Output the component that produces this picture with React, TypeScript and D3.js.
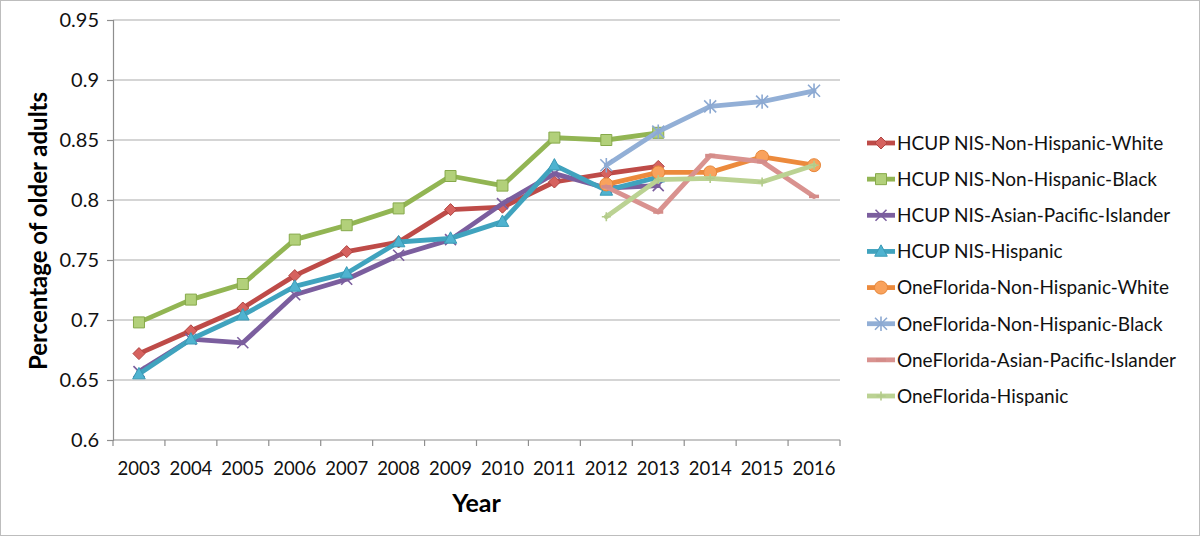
import { useEffect, useRef } from 'react';
import * as d3 from 'd3';

const years = ['2003', '2004', '2005', '2006', '2007', '2008', '2009', '2010', '2011', '2012', '2013', '2014', '2015', '2016'];
const yTicks = [0.6, 0.65, 0.7, 0.75, 0.8, 0.85, 0.9, 0.95];

// HCUP NIS covers 2003-2013, OneFlorida covers 2012-2016
const hcupNHW  = [0.672, 0.691, 0.710, 0.737, 0.757, 0.765, 0.792, 0.794, 0.815, 0.822, 0.828, null, null, null];
const hcupNHB  = [0.698, 0.717, 0.730, 0.767, 0.779, 0.793, 0.820, 0.812, 0.852, 0.850, 0.856, null, null, null];
const hcupAPI  = [0.657, 0.684, 0.681, 0.721, 0.734, 0.754, 0.767, 0.797, 0.822, 0.810, 0.812, null, null, null];
const hcupHisp = [0.655, 0.684, 0.704, 0.728, 0.739, 0.765, 0.768, 0.782, 0.829, 0.808, 0.819, null, null, null];
const ofNHW    = [null, null, null, null, null, null, null, null, null, 0.813, 0.823, 0.823, 0.836, 0.829];
const ofNHB    = [null, null, null, null, null, null, null, null, null, 0.829, 0.857, 0.878, 0.882, 0.891];
const ofAPI    = [null, null, null, null, null, null, null, null, null, 0.811, 0.790, 0.837, 0.832, 0.803];
const ofHisp   = [null, null, null, null, null, null, null, null, null, 0.786, 0.817, 0.818, 0.815, 0.829];

type Marker = 'diamond' | 'square' | 'times' | 'triangle' | 'circle' | 'star' | 'dash' | 'plus';

interface Series {
  name: string;
  values: (number | null)[];
  line: string;
  fill: string;
  stroke: string;
  marker: Marker;
}

const series: Series[] = [
  { name: 'HCUP NIS-Non-Hispanic-White',      values: hcupNHW,  line: '#BE4B48', fill: '#D6625F', stroke: '#B04441', marker: 'diamond' },
  { name: 'HCUP NIS-Non-Hispanic-Black',      values: hcupNHB,  line: '#92B553', fill: '#B2D07A', stroke: '#86A94A', marker: 'square' },
  { name: 'HCUP NIS-Asian-Pacific-Islander',  values: hcupAPI,  line: '#7B5E9E', fill: 'none',    stroke: '#7B5E9E', marker: 'times' },
  { name: 'HCUP NIS-Hispanic',                values: hcupHisp, line: '#40A3BE', fill: '#4FB3D0', stroke: '#3A9AB5', marker: 'triangle' },
  { name: 'OneFlorida-Non-Hispanic-White',    values: ofNHW,    line: '#EC8A3C', fill: '#F9A25C', stroke: '#E6873A', marker: 'circle' },
  { name: 'OneFlorida-Non-Hispanic-Black',    values: ofNHB,    line: '#92AFD6', fill: 'none',    stroke: '#8CA9D2', marker: 'star' },
  { name: 'OneFlorida-Asian-Pacific-Islander', values: ofAPI,   line: '#D9928F', fill: 'none',    stroke: '#D48C89', marker: 'dash' },
  { name: 'OneFlorida-Hispanic',              values: ofHisp,   line: '#BBD293', fill: 'none',    stroke: '#B3CB8A', marker: 'plus' },
];

function markerPath(m: Marker, s: number): string {
  const h = s / 2;
  switch (m) {
    case 'diamond':  return `M0,${-h}L${h},0L0,${h}L${-h},0Z`;
    case 'square':   return `M${-h},${-h}H${h}V${h}H${-h}Z`;
    case 'triangle': return `M0,${-h * 1.1}L${h * 1.05},${h * 0.8}L${-h * 1.05},${h * 0.8}Z`;
    case 'circle':   return d3.symbol(d3.symbolCircle, Math.PI * h * h)()!;
    case 'times':    return `M${-h},${-h}L${h},${h}M${h},${-h}L${-h},${h}`;
    case 'star':     return `M${-h},${-h}L${h},${h}M${h},${-h}L${-h},${h}M0,${-h * 1.2}V${h * 1.2}`;
    case 'dash':     return `M${-h},0H${h}`;
    case 'plus':     return `M${-h},0H${h}M0,${-h}V${h}`;
  }
}

const markerSize: Record<Marker, number> = {
  diamond: 12, square: 11, times: 11, triangle: 12, circle: 13, star: 12, dash: 10, plus: 9,
};

export default function App() {
  const svgRef = useRef<SVGSVGElement>(null);

  useEffect(() => {
    document.body.style.margin = '0';
    if (!svgRef.current) return;

    const svg = d3.select(svgRef.current);
    svg.selectAll('*').remove();

    const W = 1200, H = 536;
    const plot = { left: 113, right: 840, top: 20, bottom: 440 };
    const font = 'Lato, "Open Sans", sans-serif';

    svg.append('rect')
      .attr('x', 0.5).attr('y', 0.5).attr('width', W - 1).attr('height', H - 1)
      .attr('fill', '#fff').attr('stroke', '#bdbdbd');

    const x = d3.scaleBand().domain(years).range([plot.left, plot.right]);
    const cx = (yr: string) => x(yr)! + x.bandwidth() / 2;
    const y = d3.scaleLinear().domain([0.6, 0.95]).range([plot.bottom, plot.top]);

    // gridlines
    svg.append('g')
      .selectAll('line')
      .data(yTicks.filter(t => t > 0.6))
      .enter().append('line')
      .attr('x1', plot.left).attr('x2', plot.right)
      .attr('y1', d => y(d)).attr('y2', d => y(d))
      .attr('stroke', '#acacac').attr('stroke-width', 1.2);

    // y axis
    svg.append('g')
      .attr('transform', `translate(${plot.left},0)`)
      .call(d3.axisLeft(y).tickValues(yTicks).tickSize(6).tickPadding(8).tickFormat(d => d3.format('')(+d)))
      .call(g => g.select('.domain').attr('stroke', '#8e8e8e').attr('stroke-width', 1.2))
      .call(g => g.selectAll('.tick line').attr('stroke', '#8e8e8e').attr('stroke-width', 1.2))
      .call(g => g.selectAll('text')
        .attr('fill', '#111').attr('font-size', '20px').attr('font-family', font));

    // x axis: ticks between categories
    const xg = svg.append('g').attr('transform', `translate(0,${plot.bottom})`);
    xg.append('line')
      .attr('x1', plot.left).attr('x2', plot.right)
      .attr('stroke', '#8e8e8e').attr('stroke-width', 1.2);
    xg.selectAll('.xtick')
      .data([...years.map(yr => x(yr)!), plot.right])
      .enter().append('line')
      .attr('x1', d => d).attr('x2', d => d)
      .attr('y1', 0).attr('y2', 6)
      .attr('stroke', '#8e8e8e').attr('stroke-width', 1.2);
    xg.selectAll('.xlabel')
      .data(years)
      .enter().append('text')
      .attr('x', d => cx(d)).attr('y', 35)
      .attr('text-anchor', 'middle')
      .attr('fill', '#111').attr('font-size', '18.5px').attr('font-family', font)
      .text(d => d);

    // axis titles
    svg.append('text')
      .attr('transform', `translate(47,${(plot.top + plot.bottom) / 2 + 1}) rotate(-90)`)
      .attr('text-anchor', 'middle')
      .attr('font-size', '24px').attr('font-weight', 700).attr('font-family', font)
      .attr('fill', '#000')
      .text('Percentage of older adults');
    svg.append('text')
      .attr('x', (plot.left + plot.right) / 2).attr('y', 512)
      .attr('text-anchor', 'middle')
      .attr('font-size', '25px').attr('font-weight', 700).attr('font-family', font)
      .attr('fill', '#000')
      .text('Year');

    const line = d3.line<number | null>()
      .defined(d => d != null)
      .x((_, i) => cx(years[i]))
      .y(d => y(d as number));

    const drawMarker = (g: d3.Selection<SVGGElement, unknown, null, undefined>, s: Series, px: number, py: number) => {
      const filled = s.fill !== 'none';
      g.append('path')
        .attr('d', markerPath(s.marker, markerSize[s.marker]))
        .attr('transform', `translate(${px},${py})`)
        .attr('fill', s.fill)
        .attr('stroke', s.stroke)
        .attr('stroke-width', filled ? 1 : s.marker === 'dash' ? 3.5 : 1.6)
        .attr('stroke-linejoin', 'miter');
    };

    const marks = svg.append('g');
    series.forEach(s => {
      const g = marks.append('g');
      g.append('path')
        .datum(s.values)
        .attr('d', line)
        .attr('fill', 'none')
        .attr('stroke', s.line)
        .attr('stroke-width', 4.8)
        .attr('stroke-linejoin', 'round')
        .attr('stroke-linecap', 'round');
      s.values.forEach((v, i) => {
        if (v == null) return;
        drawMarker(g, s, cx(years[i]), y(v));
      });
    });

    // legend
    const legendRowY = d3.scalePoint<string>()
      .domain(series.map(s => s.name))
      .range([143, 396]);
    const legend = svg.append('g');
    series.forEach(s => {
      const ly = legendRowY(s.name)!;
      const g = legend.append('g');
      g.append('line')
        .attr('x1', 867).attr('x2', 895)
        .attr('y1', ly).attr('y2', ly)
        .attr('stroke', s.line).attr('stroke-width', 4.8);
      drawMarker(g, s, 881, ly);
      g.append('text')
        .attr('x', 897).attr('y', ly + 6.8)
        .attr('font-size', '19px').attr('font-family', font)
        .attr('fill', '#111')
        .text(s.name);
    });
  }, []);

  return <svg ref={svgRef} width={1200} height={536} style={{ display: 'block' }} />;
}
